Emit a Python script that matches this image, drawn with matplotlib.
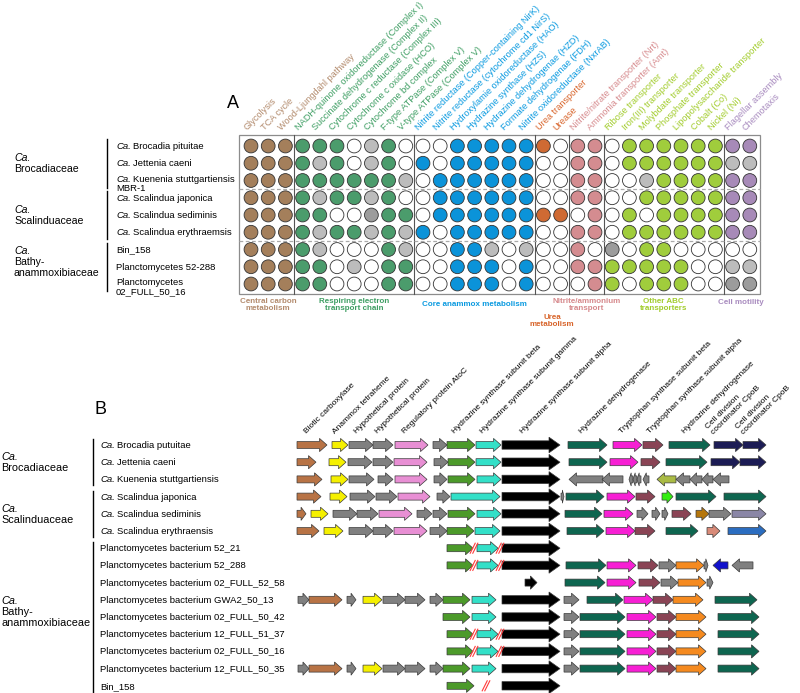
import matplotlib
matplotlib.use("Agg")
import matplotlib.pyplot as plt
from matplotlib.patches import Circle, Polygon, Rectangle

plt.rcParams["font.family"] = ["Liberation Sans", "DejaVu Sans"]

# ---------------- panel A data ----------------
group_names = ["Central carbon\nmetabolism", "Respiring electron\ntransport chain",
               "Core anammox metabolism", "Urea\nmetabolism",
               "Nitrite/ammonium\ntransport", "Other ABC\ntransporters", "Cell motility"]
group_sizes = [3, 7, 7, 2, 2, 7, 2]
group_label_y = [305, 305, 304, 321, 305, 305, 302]
group_text_colors = ["#b38b6d", "#3e9e63", "#0a9ae0", "#d8642a", "#d6898c", "#a2cc2c", "#a88bbf"]
group_fill_colors = ["#a47f5b", "#4b9c6c", "#0b93d9", "#cf6a33", "#d48c90", "#a0cd3c", "#a78ab8"]

pathways = [
    "Glycolysis", "TCA cycle", "Wood-Ljungdahl pathway",
    "NADH-quinone oxidoreductase (Complex I)", "Succinate dehydrogenase (Complex II)",
    "Cytochrome c reductase (Complex III)", "Cytochrome c oxidase (HCO)",
    "Cytochrome bd complex", "F-type ATPase (Complex V)", "V-type ATPase (Complex V)",
    "Nitrite reductase (Copper-containing NirK)", "Nitrite reductase (cytochrome cd1 NirS)",
    "Hydroxylamie oxidoreductase (HAO)", "Hydrazine synthase (HZS)",
    "Hydrazine dehydrogenae (HZD)", "Formate dehydrogenae (FDH)",
    "Nitrite oxidoreductase (NxrAB)",
    "Urea transporter", "Urease",
    "Nitrite/nitrate transporter (Nrt)", "Ammonia transporter (Amt)",
    "Ribose transporter", "Iron(III) transporter", "Molybdate transporter",
    "Phosphate transporter", "Lipopolysaccharide transporter", "Cobalt (Co)", "Nickel (Ni)",
    "Flagellar assembly", "Chemotaxis",
]

# c = present (group colour), w = absent, g / d = partial (light / dark grey)
presence = [
    "ccc" "cccwgcw" "wwccccc" "cw" "cc" "wcccccc" "cc",
    "ccc" "cgcwgcw" "cwccccc" "ww" "cc" "wcccccc" "gg",
    "ccc" "ccccccg" "wcccccc" "ww" "cc" "wwgcccc" "cc",
    "ccc" "cgccgcw" "wcccccc" "ww" "cc" "wwccccc" "cc",
    "ccc" "ccwwdcc" "wcccccc" "cc" "wc" "wcwcccc" "cc",
    "ccc" "cgccgcg" "cwccccc" "ww" "cc" "wcccccc" "cc",
    "ccc" "cgwwwcg" "wwccgwg" "ww" "cw" "dwccwww" "ww",
    "ccc" "ccwgwcc" "wwcccwc" "ww" "cc" "cccccww" "gg",
    "ccc" "ccwwwcc" "wwcccwc" "ww" "wc" "cwcccww" "dd",
]

families_a = [("Brocadiaceae", 0, 3), ("Scalinduaceae", 3, 6), ("Bathy-\nanammoxibiaceae", 6, 9)]
genomes_a = [
    "Ca. Brocadia pituitae", "Ca. Jettenia caeni", "Ca. Kuenenia stuttgartiensis\nMBR-1",
    "Ca. Scalindua japonica", "Ca. Scalindua sediminis", "Ca. Scalindua erythraemsis",
    "Bin_158", "Planctomycetes 52-288", "Planctomycetes\n02_FULL_50_16",
]

# ---------------- panel B data ----------------
gene_colors = {
    "bc": "#b87345", "at": "#f5f000", "hp": "#808080", "reg": "#e88fd4",
    "hzb": "#4c9a2a", "hzg": "#33e0c8", "hza": "#000000", "hdh": "#0e6650",
    "tsb": "#f71fd4", "tsa": "#8a4455", "cpo": "#1c1c55", "lim": "#aabb44",
    "brg": "#33ee11", "gol": "#b5760c", "lav": "#8a86a6", "sal": "#d88a78",
    "blu": "#2b6dc0", "org": "#f58a1f", "dbl": "#1111cc",
}

gene_labels = [
    "Biotic carboxylase", "Anammox tetraheme", "Hypothetical protein",
    "Hypothetical protein", "Regulatory protein AtoC",
    "Hydrazine synthase subunit beta", "Hydrazine synthase subunit gamma",
    "Hydrazine synthase subunit alpha", "Hydrazine dehydrogenase",
    "Tryptophan synthase subunit beta", "Tryptophan synthase subunit alpha",
    "Hydrazine dehydrogenase", "Cell division\ncoordinator CpoB",
    "Cell division\ncoordinator CpoB",
]
gene_label_x = [307, 335, 357, 378, 405, 455, 483, 523, 582, 622, 650, 685, 713, 743]

families_b = [("Brocadiaceae", 0, 3), ("Scalinduaceae", 3, 6), ("Bathy-\nanammoxibiaceae", 6, 15)]
genomes_b = [
    "Ca. Brocadia putuitae", "Ca. Jettenia caeni", "Ca. Kuenenia stuttgartiensis",
    "Ca. Scalindua japonica", "Ca. Scalindua sediminis", "Ca. Scalindua erythraensis",
    "Planctomycetes bacterium 52_21", "Planctomycetes bacterium 52_288",
    "Planctomycetes bacterium 02_FULL_52_58", "Planctomycetes bacterium GWA2_50_13",
    "Planctomycetes bacterium 02_FULL_50_42", "Planctomycetes bacterium 12_FULL_51_37",
    "Planctomycetes bacterium 02_FULL_50_16", "Planctomycetes bacterium 12_FULL_50_35",
    "Bin_158",
]

# gene neighbourhoods: (start, end, gene, strand)
hzs_broken = [(447, 473, "hzb", 1), (477, 498, "hzg", 1), (502, 560, "hza", 1)]
hzs_whole = [(443, 470, "hzb", 1), (472, 496, "hzg", 1), (502, 560, "hza", 1)]
bathy_left = [(298, 309, "hp", 1), (309, 342, "bc", 1), (347, 356, "hp", 1),
              (363, 382, "at", 1), (383, 405, "hp", 1), (405, 425, "hp", 1),
              (430, 443, "hp", 1)]
bathy_right = [(564, 579, "hp", 1), (580, 625, "hdh", 1), (627, 656, "tsb", 1),
               (657, 676, "tsa", 1), (676, 706, "org", 1), (718, 759, "hdh", 1)]

loci = [
    [(297, 327, "bc", 1), (332, 348, "at", 1), (349, 373, "hp", 1), (373, 393, "hp", 1),
     (395, 428, "reg", 1), (433, 447, "hp", 1), (447, 475, "hzb", 1), (476, 501, "hzg", 1),
     (502, 560, "hza", 1), (568, 607, "hdh", 1), (613, 642, "tsb", 1), (643, 663, "tsa", 1),
     (669, 710, "hdh", 1), (714, 743, "cpo", 1), (743, 766, "cpo", 1)],
    [(297, 316, "bc", 1), (329, 346, "at", 1), (348, 372, "hp", 1), (373, 393, "hp", 1),
     (394, 427, "reg", 1), (434, 448, "hp", 1), (448, 475, "hzb", 1), (476, 501, "hzg", 1),
     (502, 560, "hza", 1), (569, 607, "hdh", 1), (610, 638, "tsb", 1), (641, 660, "tsa", 1),
     (666, 707, "hdh", 1), (711, 740, "cpo", 1), (740, 766, "cpo", 1)],
    [(297, 322, "bc", 1), (331, 348, "at", 1), (349, 374, "hp", 1), (378, 393, "hp", 1),
     (395, 427, "reg", 1), (434, 447, "hp", 1), (448, 475, "hzb", 1), (477, 501, "hzg", 1),
     (502, 560, "hza", 1), (569, 603, "hp", -1), (602, 623, "hp", -1), (629, 633, "hp", -1),
     (633, 637, "hp", -1), (637, 641, "hp", -1), (643, 649, "hp", -1), (657, 676, "lim", -1),
     (676, 690, "hp", -1), (690, 702, "hp", -1), (702, 713, "hp", -1), (713, 729, "hp", -1)],
    [(297, 321, "bc", 1), (330, 347, "at", 1), (350, 375, "hp", 1), (376, 397, "hp", 1),
     (398, 430, "reg", 1), (437, 450, "hp", 1), (451, 500, "hzg", 1), (502, 560, "hza", 1),
     (561, 564, "hp", 1), (566, 604, "hdh", 1), (607, 635, "tsb", 1), (636, 655, "tsa", 1),
     (662, 673, "brg", 1), (676, 716, "hdh", 1), (724, 766, "hdh", 1)],
    [(297, 306, "bc", 1), (311, 328, "at", 1), (333, 357, "hp", 1), (357, 378, "hp", 1),
     (379, 412, "reg", 1), (417, 432, "hp", 1), (433, 447, "hp", 1), (448, 475, "hzb", 1),
     (477, 501, "hzg", 1), (502, 560, "hza", 1), (565, 602, "hdh", 1), (604, 633, "tsb", 1),
     (637, 648, "hp", 1), (652, 660, "hp", 1), (662, 668, "hp", 1), (672, 691, "tsa", 1),
     (696, 709, "gol", 1), (709, 731, "hp", 1), (732, 766, "lav", 1)],
    [(297, 319, "bc", 1), (324, 343, "at", 1), (349, 373, "hp", 1), (373, 393, "hp", 1),
     (394, 427, "reg", 1), (430, 447, "hp", 1), (447, 474, "hzb", 1), (475, 500, "hzg", 1),
     (502, 560, "hza", 1), (567, 604, "hdh", 1), (606, 635, "tsb", 1), (635, 655, "tsa", 1),
     (666, 698, "hdh", 1), (707, 720, "sal", 1), (728, 766, "blu", 1)],
    hzs_broken,
    hzs_broken + [(566, 606, "hdh", 1), (607, 636, "tsb", 1), (638, 658, "tsa", 1),
                  (659, 676, "hp", 1), (676, 704, "org", 1), (704, 708, "hp", 1),
                  (713, 728, "dbl", -1), (732, 753, "hp", -1)],
    [(525, 537, "hza", 1), (565, 605, "hdh", 1), (607, 636, "tsb", 1), (639, 660, "tsa", 1),
     (661, 678, "hp", 1), (678, 706, "org", 1), (707, 713, "hp", 1)],
    bathy_left + hzs_whole + [(564, 579, "hp", 1), (587, 623, "hdh", 1), (624, 653, "tsb", 1),
                              (653, 673, "tsa", 1), (673, 703, "org", 1), (715, 757, "hdh", 1)],
    hzs_whole + bathy_right,
    hzs_broken + bathy_right,
    hzs_broken + bathy_right,
    bathy_left + hzs_whole + bathy_right,
    [(447, 474, "hzb", 1), (502, 560, "hza", 1)],
]
# contig breaks (red slashes) per row
breaks = {6: [474, 500], 7: [474, 500], 11: [474, 500], 12: [474, 500], 14: [486]}


def draw_gene(ax, x0, x1, y, color, strand, big=False):
    body = 4.2 if big else 3.5
    head = 7.8 if big else 6.6
    hl = min(11 if big else 7.5, 0.55 * (x1 - x0))
    if strand > 0:
        xb = x1 - hl
        pts = [(x0, y - body), (xb, y - body), (xb, y - head), (x1, y),
               (xb, y + head), (xb, y + body), (x0, y + body)]
    else:
        xb = x0 + hl
        pts = [(x1, y - body), (xb, y - body), (xb, y - head), (x0, y),
               (xb, y + head), (xb, y + body), (x1, y + body)]
    ax.add_patch(Polygon(pts, closed=True, facecolor=color, edgecolor="#3a3a3a",
                         linewidth=0.5, joinstyle="miter"))


fig = plt.figure(figsize=(8, 6.93), dpi=100)
ax = fig.add_axes([0, 0, 1, 1])
ax.set_xlim(0, 800)
ax.set_ylim(693, 0)
ax.axis("off")
renderer = fig.canvas.get_renderer()


def genome_label(x, y, text, size):
    # "Ca." in italics, rest upright, on one baseline
    yb = y + size * 0.45
    if text.startswith("Ca. "):
        t = ax.text(x, yb, "Ca.", fontstyle="italic", fontsize=size, ha="left", va="baseline")
        w = t.get_window_extent(renderer).width
        ax.text(x + w + size * 0.36, yb, text[4:], fontsize=size, ha="left", va="baseline")
    else:
        ax.text(x, yb, text, fontsize=size, ha="left", va="baseline")


def family_label(x, y_top, name, size, step):
    ax.text(x, y_top, "Ca.", fontstyle="italic", fontsize=size, ha="left", va="baseline")
    for k, line in enumerate(name.split("\n")):
        ax.text(x, y_top + step * (k + 1), line, fontsize=size, ha="left", va="baseline")


# ================= Panel A =================
col_x0, col_dx = 251.0, 17.2
row_y0, row_dy = 146.0, 17.25
n_cols = len(pathways)
n_rows = len(presence)
box_left = col_x0 - col_dx * 0.68
box_right = col_x0 + col_dx * (n_cols - 1) + col_dx * 0.58
box_top = row_y0 - 11
box_bot = row_y0 + row_dy * (n_rows - 1) + 10

ax.text(233, 104, "A", fontsize=13, ha="center", va="center")
ax.add_patch(Rectangle((box_left, box_top), box_right - box_left, box_bot - box_top,
                       facecolor="none", edgecolor="#8c8c8c", linewidth=0.9))

col_group = []
for gi, n in enumerate(group_sizes):
    col_group += [gi] * n

start = 0
for gi, n in enumerate(group_sizes):
    if gi > 0:
        xs = col_x0 + col_dx * (start - 0.5)
        ax.plot([xs, xs], [box_top, box_bot], color="#555555", lw=0.8)
    xc = col_x0 + col_dx * (start + (n - 1) / 2)
    ax.text(xc, group_label_y[gi], group_names[gi], ha="center", va="center", fontsize=5.8,
            fontweight="bold", color=group_text_colors[gi], linespacing=1.05)
    start += n

for sep in (3, 6):
    ys = row_y0 + row_dy * (sep - 0.5)
    ax.plot([box_left, box_right], [ys, ys], color="#aaaaaa", lw=0.9, ls=(0, (3, 2)))

for j, lab in enumerate(pathways):
    xc = col_x0 + col_dx * j
    ax.text(xc - 4, 131, lab, rotation=45, rotation_mode="anchor", ha="left",
            va="baseline", fontsize=6.6, color=group_text_colors[col_group[j]])

fill_map = {"w": "white", "g": "#bcbcbc", "d": "#9c9c9c"}
for i, row in enumerate(presence):
    y = row_y0 + row_dy * i
    for j, code in enumerate(row):
        fc = group_fill_colors[col_group[j]] if code == "c" else fill_map[code]
        ax.add_patch(Circle((col_x0 + col_dx * j, y), 6.9, facecolor=fc,
                            edgecolor="#333333", linewidth=0.6))

for name, r0, r1 in families_a:
    ya = row_y0 + row_dy * r0 - 7
    yb = row_y0 + row_dy * (r1 - 1) + 7
    ax.plot([107, 107], [ya, yb], color="black", lw=1.0)
    ym = row_y0 + row_dy * (r0 + r1 - 1) / 2
    nl = name.count("\n") + 1
    family_label(14, ym - 2 - 11 * (nl - 1), name, 7.6, 11)

for i, lab in enumerate(genomes_a):
    y = row_y0 + row_dy * i
    lines = lab.split("\n")
    if len(lines) == 1:
        genome_label(116, y, lab, 6.8)
    else:
        genome_label(116, y - 2, lines[0], 6.8)
        genome_label(116, y + 7, lines[1], 6.8)

# ================= Panel B =================
rowb_y0, rowb_dy = 445.0, 17.2
ax.text(101, 410, "B", fontsize=13, ha="center", va="center")

for x, lab in zip(gene_label_x, gene_labels):
    ax.text(x, 434, lab, rotation=45, rotation_mode="anchor", ha="left", va="baseline",
            fontsize=6.0, color="black", linespacing=1.1)

for name, r0, r1 in families_b:
    ya = rowb_y0 + rowb_dy * r0 - 6
    yb = rowb_y0 + rowb_dy * (r1 - 1) + 6
    ax.plot([93, 93], [ya, yb], color="black", lw=1.0)
    ym = rowb_y0 + rowb_dy * (r0 + r1 - 1) / 2
    nl = name.count("\n") + 1
    family_label(1, ym - 2 - 11 * (nl - 1), name, 7.8, 11)

for i, lab in enumerate(genomes_b):
    genome_label(100, rowb_y0 + rowb_dy * i, lab, 6.8)

for i, genes in enumerate(loci):
    y = rowb_y0 + rowb_dy * i
    for x0, x1, g, strand in genes:
        draw_gene(ax, x0, x1, y, gene_colors[g], strand, big=(g == "hza" and x1 - x0 > 30))
    for xb in breaks.get(i, []):
        for off in (-1.3, 1.3):
            ax.plot([xb - 2.5 + off, xb + 2.5 + off], [y + 5, y - 5], color="#ff3b3b", lw=0.8)

fig.savefig("out.png", dpi=100)
